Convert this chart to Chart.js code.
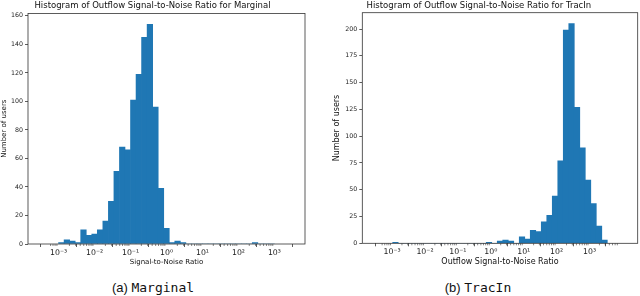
<!DOCTYPE html>
<html>
<head>
<meta charset="utf-8">
<script src="https://cdn.jsdelivr.net/npm/chart.js@4.4.0/dist/chart.umd.min.js"></script>
<style>
  body { margin: 0; width: 640px; height: 296px; background: #fff; position: relative; overflow: hidden; }
  .plot { position: absolute; top: 0; width: 320px; height: 270px; }
  .cap { position: absolute; top: 280px; font-family: 'Liberation Sans', sans-serif; font-size: 13px; line-height: 15px; white-space: nowrap; transform: translateX(-50%); color: #111; }
  .cap .mono { font-family: 'DejaVu Sans Mono', monospace; }
</style>
</head>
<body>
<div class="plot" style="left:0"><canvas id="marginalChart" width="320" height="270"></canvas></div>
<div class="plot" style="left:320px"><canvas id="tracinChart" width="320" height="270"></canvas></div>
<div class="cap" style="left:153px">(a) <span class="mono">Marginal</span></div>
<div class="cap" style="left:478px">(b) <span class="mono">TracIn</span></div>
<script>
// 39 log-spaced bins between smallest and largest ratio (log10 units)
var marginalLogRange = [-3, 3];
var marginalCounts = [1, 3, 2, 1, 10, 6, 7, 10, 16, 30, 51, 68, 66, 101, 119, 145, 154, 96, 39, 11,
                      1, 2, 1, 0, 0, 0, 0, 0, 0, 0, 0, 0, 0, 0, 0, 1, 0, 0, 0];
var tracinLogRange = [-2.98, 3.54];
var tracinCounts = [1, 0, 0, 0, 0, 0, 0, 0, 0, 0, 0, 0, 0, 0, 0, 0, 0, 1, 0, 2,
                    3, 2, 0, 6, 4, 12, 11, 20, 26, 44, 77, 199, 205, 127, 89, 59, 37, 16, 3];

var xTickValues = [-3, -2, -1, 0, 1, 2, 3];
var xTickLabels = ['10\u207B\u00B3', '10\u207B\u00B2', '10\u207B\u00B9', '10\u2070', '10\u00B9', '10\u00B2', '10\u00B3'];
var marginalYTicks = [0, 20, 40, 60, 80, 100, 120, 140, 160];
var tracinYTicks = [0, 25, 50, 75, 100, 125, 150, 175, 200];

function binPoints(range, counts) {
  var w = (range[1] - range[0]) / counts.length;
  return counts.map(function(c, i) {
    return { x: range[0] + w * (i + 0.5), y: c };
  });
}

// box round the plot + minor log ticks
var frame = {
  id: 'frame',
  afterDatasetsDraw: function(chart) {
    var a = chart.chartArea, c = chart.ctx, x = chart.scales.x;
    c.save();
    c.strokeStyle = '#333';
    c.lineWidth = 0.8;
    c.strokeRect(a.left, a.top, a.right - a.left, a.bottom - a.top);
    c.beginPath();
    for (var k = Math.floor(x.min); k < x.max; k++) {
      for (var m = 2; m < 10; m++) {
        var v = k + Math.log10(m);
        if (v < x.min || v > x.max) continue;
        var px = x.getPixelForValue(v);
        c.moveTo(px, a.bottom);
        c.lineTo(px, a.bottom + 2);
      }
    }
    c.lineWidth = 0.6;
    c.stroke();
    c.restore();
  }
};

function makeHist(id, o) {
  var span = o.range[1] - o.range[0];
  var ctx = document.getElementById(id).getContext('2d');
  return new Chart(ctx, {
    type: 'bar',
    data: {
      datasets: [{
        data: binPoints(o.range, o.counts),
        backgroundColor: '#1f77b4',
        borderWidth: 0,
        barPercentage: 1,
        categoryPercentage: 1
      }]
    },
    options: {
      responsive: false,
      animation: false,
      layout: { padding: { left: 0, right: o.padRight, top: 0, bottom: 0 } },
      plugins: {
        legend: { display: false },
        tooltip: { enabled: false },
        title: {
          display: true, text: o.title, color: '#111',
          font: { family: 'DejaVu Sans', size: 8.5, weight: 'normal' },
          padding: o.titlePad
        }
      },
      scales: {
        x: {
          type: 'linear',
          min: o.range[0] - 0.05 * span,
          max: o.range[1] + 0.05 * span,
          border: { display: false },
          grid: { drawOnChartArea: false, tickLength: 3, tickColor: '#333', tickWidth: 0.8 },
          afterBuildTicks: function(s) { s.ticks = xTickValues.map(function(v) { return { value: v }; }); },
          afterFit: function(s) { s.height = o.xHeight; },
          ticks: {
            autoSkip: false, maxRotation: 0, padding: 1, color: '#222',
            font: { family: 'DejaVu Sans', size: 7.8 },
            callback: function(v, i) { return xTickLabels[i]; }
          },
          title: {
            display: true, text: o.xTitle, color: '#111',
            font: { family: 'DejaVu Sans', size: o.labelSize },
            padding: { top: 0, bottom: o.xTitlePad }
          }
        },
        y: {
          min: 0,
          max: o.yMax,
          border: { display: false },
          grid: { drawOnChartArea: false, tickLength: 3, tickColor: '#333', tickWidth: 0.8 },
          afterBuildTicks: function(s) { s.ticks = o.yTicks.map(function(v) { return { value: v }; }); },
          afterFit: function(s) { s.width = o.yWidth; },
          ticks: {
            padding: 2, color: '#222',
            font: { family: 'DejaVu Sans', size: 6.3 }
          },
          title: {
            display: true, text: 'Number of users', color: '#111',
            font: { family: 'DejaVu Sans', size: o.labelSize },
            padding: { top: o.yTitlePad, bottom: 0 }
          }
        }
      }
    },
    plugins: [frame]
  });
}

makeHist('marginalChart', {
  title: 'Histogram of Outflow Signal-to-Noise Ratio for Marginal',
  xTitle: 'Signal-to-Noise Ratio',
  range: marginalLogRange, counts: marginalCounts,
  yMax: 154 * 1.05, yTicks: marginalYTicks,
  padRight: 15, yWidth: 28, xHeight: 26,
  titlePad: { top: 1, bottom: 2.2 },
  labelSize: 7, xTitlePad: 4.1, yTitlePad: 0
});

makeHist('tracinChart', {
  title: 'Histogram of Outflow Signal-to-Noise Ratio for TracIn',
  xTitle: 'Outflow Signal-to-Noise Ratio',
  range: tracinLogRange, counts: tracinCounts,
  yMax: 205 * 1.05, yTicks: tracinYTicks,
  padRight: 2.3, yWidth: 42.3, xHeight: 26.7,
  titlePad: { top: 1, bottom: 1.5 },
  labelSize: 8, xTitlePad: 3.5, yTitlePad: 11.9
});
</script>
</body>
</html>
